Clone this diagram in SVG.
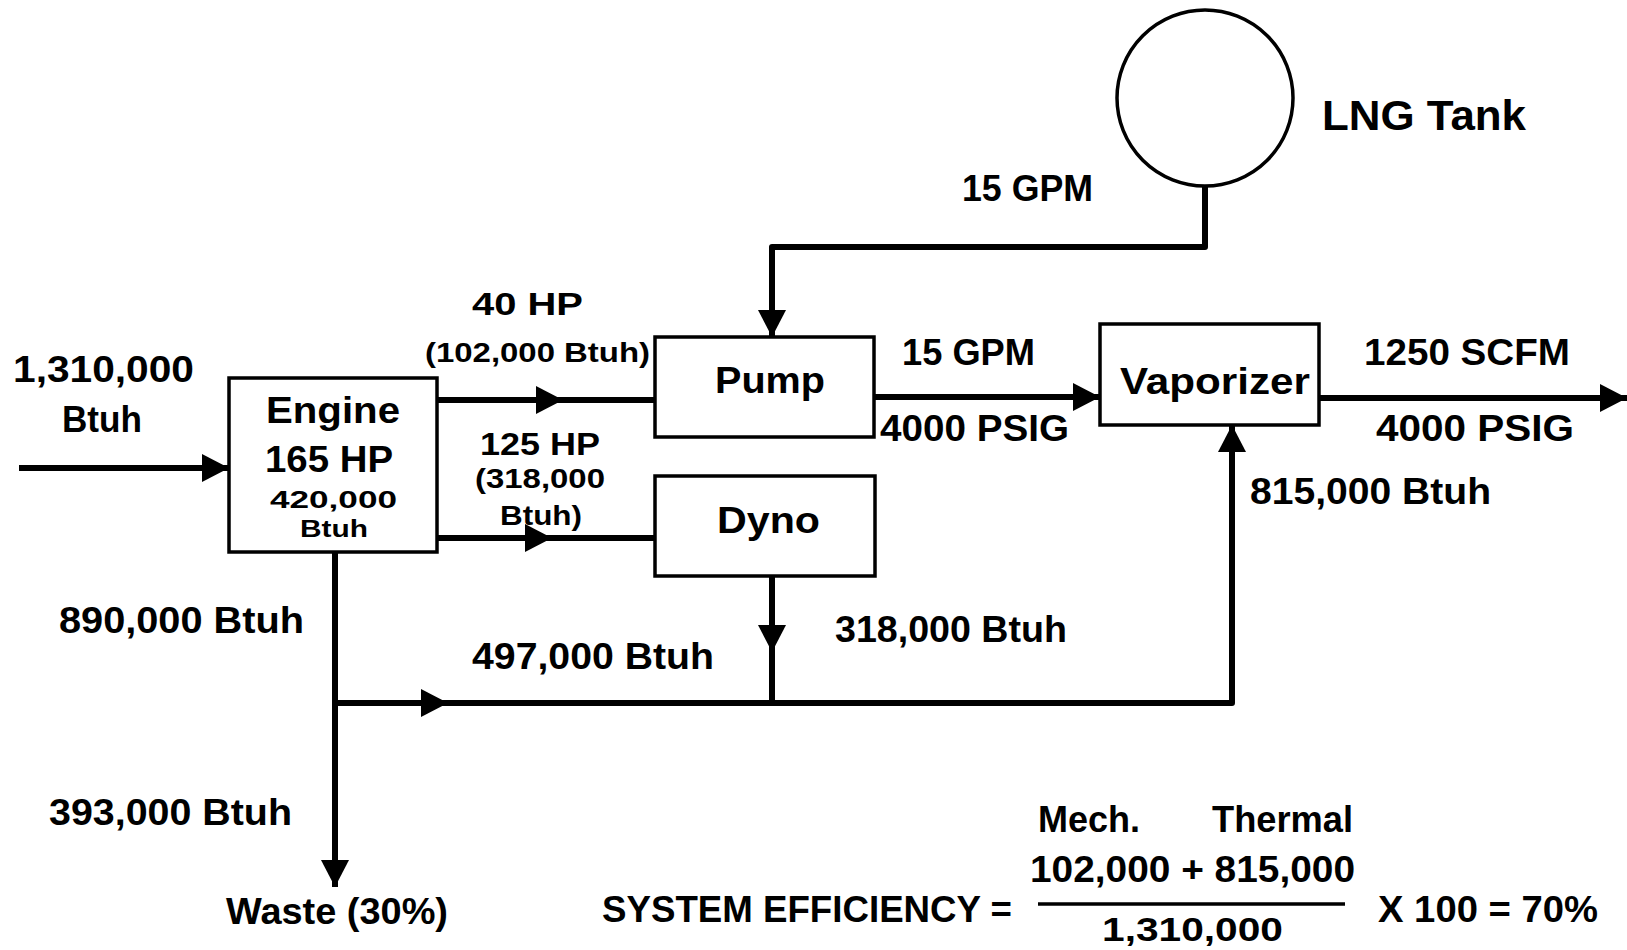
<svg xmlns="http://www.w3.org/2000/svg" width="1627" height="950" viewBox="0 0 1627 950">
<style>
  .box { fill: #fff; stroke: #000; stroke-width: 3.5; }
  .tank { fill: #fff; stroke: #000; stroke-width: 3.5; }
  .conn { fill: none; stroke: #000; stroke-width: 6; stroke-linejoin: round; stroke-linecap: butt; }
  .t { font-family: "Liberation Sans", Arial, sans-serif; font-weight: bold; fill: #000; }
  .f36 { font-size: 36px; }
  .f34 { font-size: 34px; }
  .f32 { font-size: 32px; }
  .f28 { font-size: 28px; }
  .f24 { font-size: 24px; }
  .f42 { font-size: 42px; }
</style>
<defs>
  <marker id="arrow" markerUnits="userSpaceOnUse" markerWidth="28" markerHeight="28" refX="27" refY="14" orient="auto">
    <path d="M0,0 L27,14 L0,28 z" fill="#000"/>
  </marker>
</defs>
<rect x="0" y="0" width="1627" height="950" fill="#fff"/>

<g id="connectors">
  <path class="conn" d="M19,468 L229,468" marker-end="url(#arrow)"/>
  <path class="conn" d="M437,400 L563,400" marker-end="url(#arrow)"/>
  <path class="conn" d="M560,400 L655,400"/>
  <path class="conn" d="M437,538 L552,538" marker-end="url(#arrow)"/>
  <path class="conn" d="M549,538 L655,538"/>
  <path class="conn" d="M1205,186 L1205,247 L772,247 L772,337" marker-end="url(#arrow)"/>
  <path class="conn" d="M874,397 L1100,397" marker-end="url(#arrow)"/>
  <path class="conn" d="M1319,398 L1627,398" marker-end="url(#arrow)"/>
  <path class="conn" d="M335,552 L335,887" marker-end="url(#arrow)"/>
  <path class="conn" d="M335,703 L448,703" marker-end="url(#arrow)"/>
  <path class="conn" d="M445,703 L1232,703 L1232,425" marker-end="url(#arrow)"/>
  <path class="conn" d="M772,576 L772,652" marker-end="url(#arrow)"/>
  <path class="conn" d="M772,649 L772,703"/>
</g>

<g id="lng-tank">
  <circle class="tank" cx="1205" cy="98" r="88"/>
  <text class="t f42" x="1322" y="130" textLength="204" lengthAdjust="spacingAndGlyphs">LNG Tank</text>
</g>

<g id="engine">
  <rect class="box" x="229" y="378" width="208" height="174"/>
  <text class="t f36" x="266" y="423" textLength="134" lengthAdjust="spacingAndGlyphs">Engine</text>
  <text class="t f36" x="265" y="472" textLength="128" lengthAdjust="spacingAndGlyphs">165 HP</text>
  <text class="t f24" x="270" y="508" textLength="127" lengthAdjust="spacingAndGlyphs">420,000</text>
  <text class="t f24" x="300" y="537" textLength="68" lengthAdjust="spacingAndGlyphs">Btuh</text>
</g>

<g id="pump">
  <rect class="box" x="655" y="337" width="219" height="100"/>
  <text class="t f36" x="715" y="393" textLength="110" lengthAdjust="spacingAndGlyphs">Pump</text>
</g>

<g id="dyno">
  <rect class="box" x="655" y="476" width="220" height="100"/>
  <text class="t f36" x="717" y="533" textLength="103" lengthAdjust="spacingAndGlyphs">Dyno</text>
</g>

<g id="vaporizer">
  <rect class="box" x="1100" y="324" width="219" height="101"/>
  <text class="t f36" x="1120" y="394" textLength="190" lengthAdjust="spacingAndGlyphs">Vaporizer</text>
</g>

<g id="labels">
  <text class="t f36" x="13" y="382" textLength="181" lengthAdjust="spacingAndGlyphs">1,310,000</text>
  <text class="t f36" x="62" y="432" textLength="80" lengthAdjust="spacingAndGlyphs">Btuh</text>
  <text class="t f32" x="472" y="315" textLength="111" lengthAdjust="spacingAndGlyphs">40 HP</text>
  <text class="t f28" x="425" y="362" textLength="225" lengthAdjust="spacingAndGlyphs">(102,000 Btuh)</text>
  <text class="t f32" x="480" y="455" textLength="120" lengthAdjust="spacingAndGlyphs">125 HP</text>
  <text class="t f28" x="475" y="488" textLength="130" lengthAdjust="spacingAndGlyphs">(318,000</text>
  <text class="t f28" x="500" y="525" textLength="82" lengthAdjust="spacingAndGlyphs">Btuh)</text>
  <text class="t f36" x="962" y="201" textLength="131" lengthAdjust="spacingAndGlyphs">15 GPM</text>
  <text class="t f36" x="902" y="365" textLength="133" lengthAdjust="spacingAndGlyphs">15 GPM</text>
  <text class="t f36" x="880" y="441" textLength="189" lengthAdjust="spacingAndGlyphs">4000 PSIG</text>
  <text class="t f36" x="1364" y="365" textLength="206" lengthAdjust="spacingAndGlyphs">1250 SCFM</text>
  <text class="t f36" x="1376" y="441" textLength="198" lengthAdjust="spacingAndGlyphs">4000 PSIG</text>
  <text class="t f36" x="1250" y="504" textLength="241" lengthAdjust="spacingAndGlyphs">815,000 Btuh</text>
  <text class="t f36" x="59" y="633" textLength="245" lengthAdjust="spacingAndGlyphs">890,000 Btuh</text>
  <text class="t f36" x="472" y="669" textLength="242" lengthAdjust="spacingAndGlyphs">497,000 Btuh</text>
  <text class="t f36" x="835" y="642" textLength="232" lengthAdjust="spacingAndGlyphs">318,000 Btuh</text>
  <text class="t f36" x="49" y="825" textLength="243" lengthAdjust="spacingAndGlyphs">393,000 Btuh</text>
  <text class="t f36" x="226" y="924" textLength="222" lengthAdjust="spacingAndGlyphs">Waste (30%)</text>
</g>

<g id="efficiency">
  <text class="t f36" x="1038" y="832" textLength="102" lengthAdjust="spacingAndGlyphs">Mech.</text>
  <text class="t f36" x="1212" y="832" textLength="141" lengthAdjust="spacingAndGlyphs">Thermal</text>
  <text class="t f36" x="1030" y="882" textLength="325" lengthAdjust="spacingAndGlyphs">102,000 + 815,000</text>
  <line x1="1038" y1="904" x2="1345" y2="904" stroke="#000" stroke-width="3.5"/>
  <text class="t f34" x="1102" y="941" textLength="181" lengthAdjust="spacingAndGlyphs">1,310,000</text>
  <text class="t f36" x="602" y="922" textLength="410" lengthAdjust="spacingAndGlyphs">SYSTEM EFFICIENCY =</text>
  <text class="t f36" x="1378" y="922" textLength="220" lengthAdjust="spacingAndGlyphs">X 100 = 70%</text>
</g>
</svg>
